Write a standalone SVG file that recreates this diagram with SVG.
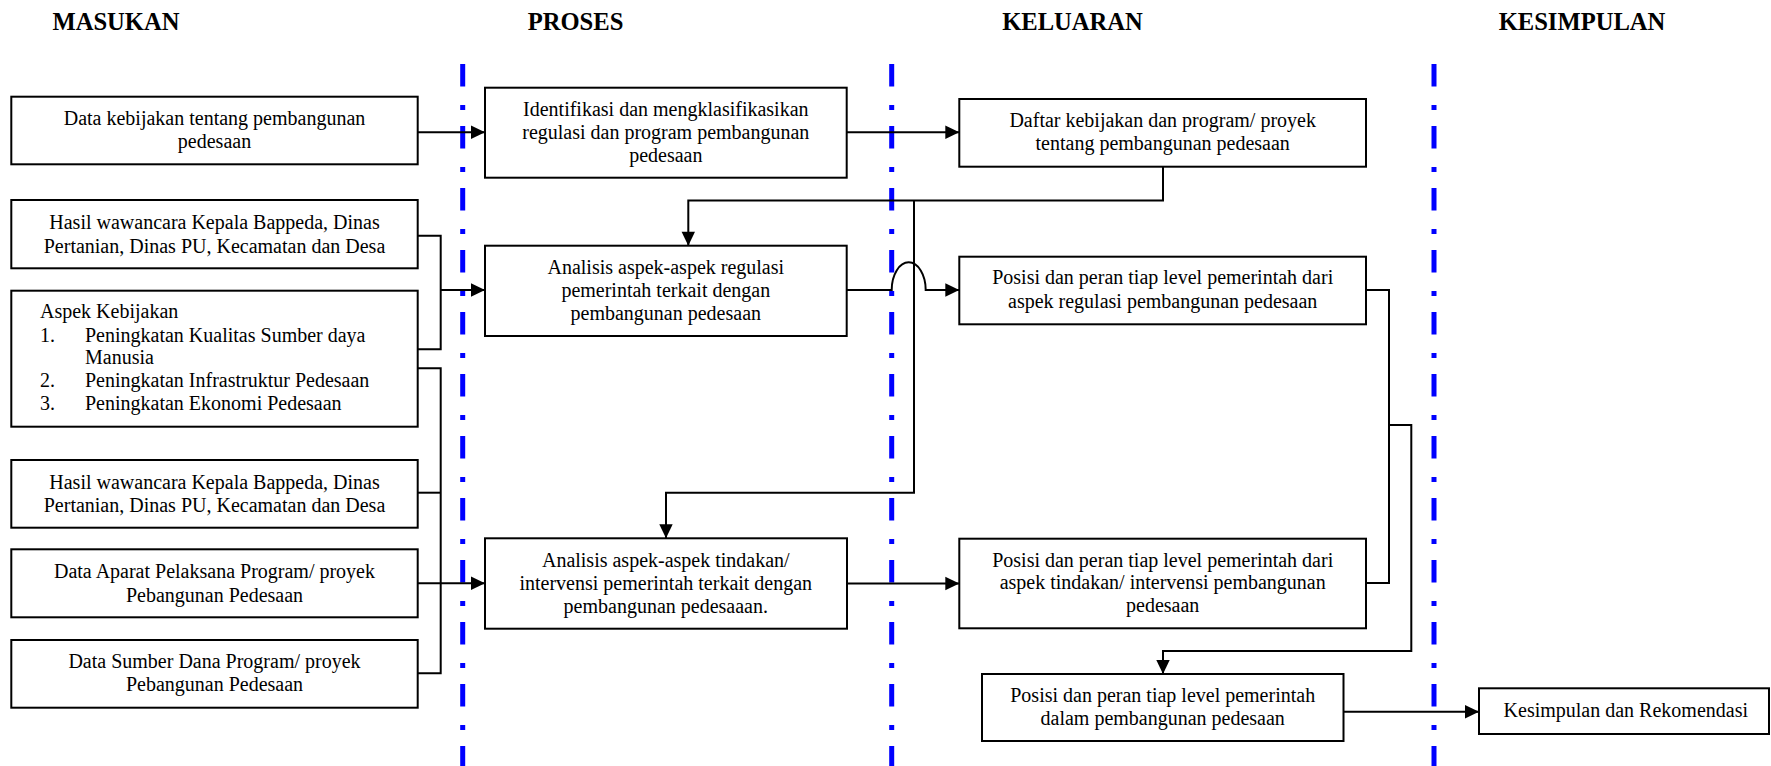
<svg xmlns="http://www.w3.org/2000/svg" width="1771" height="766" viewBox="0 0 1771 766">
<style>
.bg{fill:#fff}
.box{fill:#fff;stroke:#000;stroke-width:2}
.t{font-family:"Liberation Serif","Times New Roman",serif;font-size:20px;fill:#000}
.c{text-anchor:middle}
.h{font-family:"Liberation Serif","Times New Roman",serif;font-size:24.6px;font-weight:bold;fill:#000;text-anchor:middle}
.sep{stroke:#0000ff;stroke-width:5;stroke-dasharray:22.5 18.5 5 16;fill:none}
.con{stroke:#000;stroke-width:2;fill:none}
.arr{marker-end:url(#ah)}
</style>
<defs>
<marker id="ah" markerUnits="userSpaceOnUse" markerWidth="15" markerHeight="14" refX="14" refY="6.7" orient="auto" overflow="visible">
<path d="M0,0 L14,6.7 L0,13.4 Z" fill="#000"/>
</marker>
</defs>
<rect class="bg" x="0" y="0" width="1771" height="766"/>
<g id="headers">
<text class="h" x="116" y="30">MASUKAN</text>
<text class="h" x="575.5" y="30">PROSES</text>
<text class="h" x="1072.5" y="30">KELUARAN</text>
<text class="h" x="1582" y="30">KESIMPULAN</text>
</g>
<g id="separators">
<line class="sep" x1="462.7" y1="64" x2="462.7" y2="766"/>
<line class="sep" x1="891.7" y1="64" x2="891.7" y2="766"/>
<line class="sep" x1="1434" y1="64" x2="1434" y2="766"/>
</g>
<g id="connectors">
<path class="con arr" d="M417.7,132.3 H485"/>
<path class="con arr" d="M846.7,132.3 H959.3"/>
<path class="con" d="M417.7,235.7 H440.7 V349.3 H417.7"/>
<path class="con arr" d="M440.7,290 H485"/>
<path class="con" d="M417.7,368.3 H440.7 V673.3 H417.7"/>
<path class="con" d="M417.7,492.7 H440.7"/>
<path class="con arr" d="M417.7,583.3 H485"/>
<path class="con arr" d="M846.7,290 H891.7 A17,27.7 0 0 1 925.7,290 H959.3"/>
<path class="con arr" d="M1163,166.7 V200.5 H688.3 V245.7"/>
<path class="con arr" d="M914,200.5 V492.7 H666 V538.3"/>
<path class="con arr" d="M847,583.5 H959.3"/>
<path class="con" d="M1366,290 H1389 V583 H1366"/>
<path class="con arr" d="M1389,425 H1411.3 V651 H1163 V674"/>
<path class="con arr" d="M1343.5,711.7 H1479"/>
</g>
<g id="in1">
<rect class="box" x="11.3" y="96.7" width="406.4" height="67.6"/>
<text class="t c" x="214.5" y="125">Data kebijakan tentang pembangunan<tspan x="214.5" y="148.3">pedesaan</tspan></text>
</g>
<g id="in2">
<rect class="box" x="11.3" y="200" width="406.4" height="68.3"/>
<text class="t c" x="214.5" y="229">Hasil wawancara Kepala Bappeda, Dinas<tspan x="214.5" y="252.7">Pertanian, Dinas PU, Kecamatan dan Desa</tspan></text>
</g>
<g id="in3">
<rect class="box" x="11.3" y="290.7" width="406.4" height="136"/>
<text class="t" x="40" y="318.3">Aspek Kebijakan</text>
<text class="t" x="40" y="341.7">1.</text>
<text class="t" x="85" y="341.7">Peningkatan Kualitas Sumber daya</text>
<text class="t" x="85" y="364.3">Manusia</text>
<text class="t" x="40" y="386.7">2.</text>
<text class="t" x="85" y="386.7">Peningkatan Infrastruktur Pedesaan</text>
<text class="t" x="40" y="410">3.</text>
<text class="t" x="85" y="410">Peningkatan Ekonomi Pedesaan</text>
</g>
<g id="in4">
<rect class="box" x="11.3" y="460" width="406.4" height="67.7"/>
<text class="t c" x="214.5" y="489.3">Hasil wawancara Kepala Bappeda, Dinas<tspan x="214.5" y="511.7">Pertanian, Dinas PU, Kecamatan dan Desa</tspan></text>
</g>
<g id="in5">
<rect class="box" x="11.3" y="549.3" width="406.4" height="68"/>
<text class="t c" x="214.5" y="577.7">Data Aparat Pelaksana Program/ proyek<tspan x="214.5" y="601.7">Pebangunan Pedesaan</tspan></text>
</g>
<g id="in6">
<rect class="box" x="11.3" y="640" width="406.4" height="67.7"/>
<text class="t c" x="214.5" y="667.7">Data Sumber Dana Program/ proyek<tspan x="214.5" y="691">Pebangunan Pedesaan</tspan></text>
</g>
<g id="p1">
<rect class="box" x="485" y="87.7" width="361.7" height="90"/>
<text class="t c" x="665.8" y="116">Identifikasi dan mengklasifikasikan<tspan x="665.8" y="139">regulasi dan program pembangunan</tspan><tspan x="665.8" y="162">pedesaan</tspan></text>
</g>
<g id="p2">
<rect class="box" x="485" y="245.7" width="361.7" height="90.3"/>
<text class="t c" x="665.8" y="274.3">Analisis aspek-aspek regulasi<tspan x="665.8" y="297.3">pemerintah terkait dengan</tspan><tspan x="665.8" y="320.3">pembangunan pedesaan</tspan></text>
</g>
<g id="p3">
<rect class="box" x="485" y="538.3" width="362" height="90.4"/>
<text class="t c" x="665.8" y="566.7">Analisis aspek-aspek tindakan/<tspan x="665.8" y="590">intervensi pemerintah terkait dengan</tspan><tspan x="665.8" y="612.7">pembangunan pedesaaan.</tspan></text>
</g>
<g id="o1">
<rect class="box" x="959.3" y="99" width="406.7" height="67.7"/>
<text class="t c" x="1162.7" y="126.7">Daftar kebijakan dan program/ proyek<tspan x="1162.7" y="150">tentang pembangunan pedesaan</tspan></text>
</g>
<g id="o2">
<rect class="box" x="959.3" y="256.7" width="406.7" height="67.6"/>
<text class="t c" x="1162.7" y="284.3">Posisi dan peran tiap level pemerintah dari<tspan x="1162.7" y="307.7">aspek regulasi pembangunan pedesaan</tspan></text>
</g>
<g id="o3">
<rect class="box" x="959.3" y="538.7" width="406.7" height="89.6"/>
<text class="t c" x="1162.7" y="566.7">Posisi dan peran tiap level pemerintah dari<tspan x="1162.7" y="589.3">aspek tindakan/ intervensi pembangunan</tspan><tspan x="1162.7" y="612.3">pedesaan</tspan></text>
</g>
<g id="o4">
<rect class="box" x="982" y="674" width="361.5" height="67"/>
<text class="t c" x="1162.7" y="701.7">Posisi dan peran tiap level pemerintah<tspan x="1162.7" y="725">dalam pembangunan pedesaan</tspan></text>
</g>
<g id="k1">
<rect class="box" x="1479" y="688.3" width="290" height="45.7"/>
<text class="t c" x="1625.8" y="716.7">Kesimpulan dan Rekomendasi</text>
</g>
</svg>
